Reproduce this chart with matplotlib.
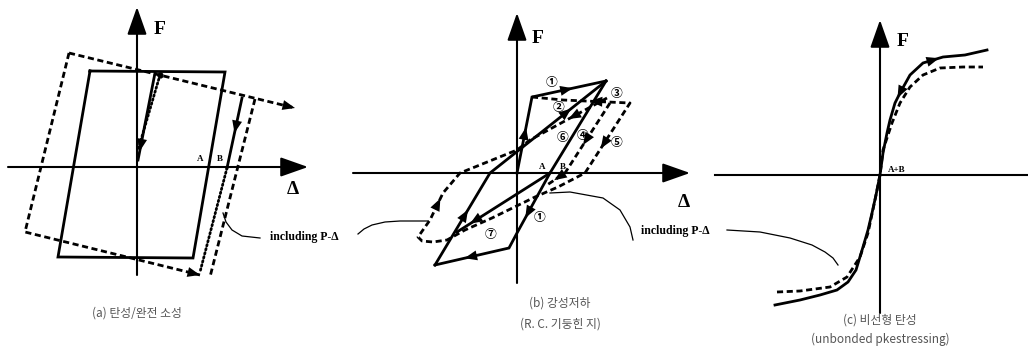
import matplotlib
matplotlib.use("Agg")
import matplotlib.pyplot as plt
from matplotlib.patches import FancyArrowPatch
import numpy as np

W, H = 1028, 347

# ------------------------------------------------------------------ data
# All curves are (Δ, F) pairs in drawing units relative to each panel origin.

# ---- panel (a): elastic / perfectly plastic
a_F_axis = [-108, 160]
a_D_axis = [-129, 171]
a_loop_x = [-47, 88, 56, -79, -47]
a_loop_y = [96, 95, -91, -90, 96]
a_unload_x = [105, 90]
a_unload_y = [69, -1]
a_dotted_x = [90, 63]
a_dotted_y = [-1, -105]
a_init_x = [18, 1]
a_init_y = [94, 7]
a_init_dot_x = [23, 1]
a_init_dot_y = [92, 17]
a_dtop_x = [-68, 158]
a_dtop_y = [114, 59]
a_douter_x = [-68, -112, 63]
a_douter_y = [114, -65, -108]
a_dright_x = [118, 73]
a_dright_y = [68, -110]
a_lead_x = [86, 89, 95, 105, 123]
a_lead_y = [-46, -55, -63, -69, -71]

# ---- panel (b): stiffness degrading (R.C. column)
b_F_axis = [-110, 160]
b_D_axis = [-164, 173]
b_init_x = [0, 15, 89]
b_init_y = [0, 76, 92]
b_unload_x = [89, 33, 0, -8, -82]
b_unload_y = [92, 0, -60, -75, -92]
b_reload_x = [-82, -27, 89]
b_reload_y = [-92, 0, 92]
b_lower_x = [33, -60]
b_lower_y = [0, -59]
b_dloop_x = [15, 46, 113, 68, 41, 18, -25, -52, -70, -84, -95, -99, -87, -74, -57, 0, 13, 90]
b_dloop_y = [76, 73, 70, 0, -14, -24, -45, -57, -67, -69, -68, -64, -47, -20, 0, 23, 33, 75]
b_dB_x = [93, 48, 30]
b_dB_y = [70, 0, -12]
b_lead_l_x = [-159, -153, -145, -132, -117, -89]
b_lead_l_y = [-61, -56, -52, -49, -48, -48]
b_lead_r_x = [33, 53, 86, 103, 113, 116]
b_lead_r_y = [-20, -19, -25, -37, -54, -67]
b_num_x = [35, 100, 42, 46, 66, 100, 23, -26]
b_num_y = [91, 80, 66, 36, 38, 31, -44, -61]
b_num_txt = ["①", "③", "②", "⑥", "④", "⑤", "①", "⑦"]

# ---- panel (c): nonlinear elastic (unbonded prestressing)
c_F_axis = [-138, 155]
c_D_axis = [-165, 147]
c_solid_x = [-105, -80, -60, -43, -32, -24, -17, -12, -8, -4, 0, 3, 7, 10, 15, 20, 30, 43, 63, 85, 107]
c_solid_y = [-130, -125, -120, -115, -107, -95, -72, -55, -38, -20, 0, 22, 42, 55, 72, 82, 100, 112, 118, 120, 125]
c_dash_x = [-103, -80, -50, -33, -20, -12, -5, 0, 3, 12, 20, 30, 43, 60, 83, 103]
c_dash_y = [-117, -116, -112, -102, -82, -58, -25, 0, 25, 52, 72, 88, 100, 107, 108, 108]
c_lead_x = [-153, -120, -90, -68, -55, -47, -42]
c_lead_y = [-55, -57, -63, -70, -77, -83, -90]

# ------------------------------------------------------------------ layout
ORIGINS = {"a": (137, 167), "b": (517, 173), "c": (880, 175)}
LW = 2.0
SERIF = "Liberation Serif"
KR = ["Noto Sans CJK KR", "DejaVu Sans"]

fig = plt.figure(figsize=(W / 100, H / 100), dpi=100)
fig.patch.set_facecolor("white")


def panel(key):
    ox, oy = ORIGINS[key]
    ax = fig.add_axes([0, 0, 1, 1])
    ax.set_xlim(-ox, W - ox)
    ax.set_ylim(oy - H, oy)
    ax.axis("off")
    ax.patch.set_alpha(0)
    return ax


def solid(ax, xs, ys, lw=LW):
    ax.plot(xs, ys, color="k", lw=lw, solid_joinstyle="miter", clip_on=False)


def dashed(ax, xs, ys):
    ax.plot(xs, ys, color="k", lw=LW, dashes=(2.2, 1.3), clip_on=False)


def dotted(ax, xs, ys):
    ax.plot(xs, ys, color="k", lw=2.0, dashes=(0.5, 1.0), dash_capstyle="round", clip_on=False)


def head(ax, xs, ys, seg, t, rev=False, hl=9.0, hw=3.6):
    x0, y0, x1, y1 = xs[seg], ys[seg], xs[seg + 1], ys[seg + 1]
    if rev:
        x0, y0, x1, y1 = x1, y1, x0, y0
    d = np.hypot(x1 - x0, y1 - y0)
    ux, uy = (x1 - x0) / d, (y1 - y0) / d
    px, py = x0 + t * (x1 - x0), y0 + t * (y1 - y0)
    L = 16
    ax.add_patch(FancyArrowPatch((px - ux * L, py - uy * L), (px, py),
                                 arrowstyle=f"-|>,head_length={hl},head_width={hw}",
                                 mutation_scale=1, color="k", lw=0,
                                 shrinkA=0, shrinkB=0, clip_on=False))


def axes_arrows(ax, Fax, Dax, d_arrow=True):
    big = "-|>,head_length=17,head_width=6"
    ax.add_patch(FancyArrowPatch((0, Fax[0]), (0, Fax[1]), arrowstyle=big,
                                 mutation_scale=1, color="k", lw=1.5,
                                 shrinkA=0, shrinkB=0, clip_on=False))
    if d_arrow:
        ax.add_patch(FancyArrowPatch((Dax[0], 0), (Dax[1], 0), arrowstyle=big,
                                     mutation_scale=1, color="k", lw=1.5,
                                     shrinkA=0, shrinkB=0, clip_on=False))
    else:
        ax.plot(Dax, [0, 0], color="k", lw=1.5, clip_on=False)


def lead(ax, xs, ys):
    ax.plot(xs, ys, color="k", lw=0.9, clip_on=False)


def caption(ax, x, y, s):
    ax.text(x, y, s, ha="center", va="center", fontsize=8.5, color="#555555",
            family=KR)


# ------------------------------------------------------------------ panel (a)
ax = panel("a")
axes_arrows(ax, a_F_axis, a_D_axis)
solid(ax, a_loop_x, a_loop_y)
solid(ax, a_unload_x, a_unload_y)
head(ax, a_unload_x, a_unload_y, 0, 0.5)
dotted(ax, a_dotted_x, a_dotted_y)
solid(ax, a_init_x, a_init_y)
head(ax, a_init_x, a_init_y, 0, 0.9)
dotted(ax, a_init_dot_x, a_init_dot_y)
dashed(ax, a_dtop_x, a_dtop_y)
head(ax, a_dtop_x, a_dtop_y, 0, 1.0)
dashed(ax, a_douter_x, a_douter_y)
head(ax, a_douter_x, a_douter_y, 1, 1.0)
dashed(ax, a_dright_x, a_dright_y)
lead(ax, a_lead_x, a_lead_y)
ax.plot([a_init_dot_x[0]], [a_init_dot_y[0]], "o", color="k", ms=3.5)
ax.text(23, 137, "F", family=SERIF, weight="bold", fontsize=14, ha="center", va="center")
ax.text(156, -23, "Δ", family=SERIF, weight="bold", fontsize=14, ha="center", va="center")
ax.text(63, 8, "A", family=SERIF, weight="bold", fontsize=6.5, ha="center", va="center")
ax.text(83, 8, "B", family=SERIF, weight="bold", fontsize=6.5, ha="center", va="center")
ax.text(133, -70, "including P-Δ", family=SERIF, weight="bold", fontsize=8.5,
        ha="left", va="center")
caption(ax, 0, -146, "(a) 탄성/완전 소성")

# ------------------------------------------------------------------ panel (b)
ax = panel("b")
axes_arrows(ax, b_F_axis, b_D_axis)
solid(ax, b_init_x, b_init_y)
head(ax, b_init_x, b_init_y, 0, 0.6)
head(ax, b_init_x, b_init_y, 1, 0.55)
solid(ax, b_unload_x, b_unload_y)
head(ax, b_unload_x, b_unload_y, 1, 0.75)
head(ax, b_unload_x, b_unload_y, 3, 0.6)
solid(ax, b_reload_x, b_reload_y)
head(ax, b_reload_x, b_reload_y, 0, 0.6)
head(ax, b_reload_x, b_reload_y, 1, 0.7)
solid(ax, b_lower_x, b_lower_y)
head(ax, b_lower_x, b_lower_y, 0, 0.86)
dashed(ax, b_dloop_x, b_dloop_y)
head(ax, b_dloop_x, b_dloop_y, 1, 0.6, rev=True)
head(ax, b_dloop_x, b_dloop_y, 2, 0.65)
head(ax, b_dloop_x, b_dloop_y, 12, 0.8)
head(ax, b_dloop_x, b_dloop_y, 16, 0.5, rev=True)
dashed(ax, b_dB_x, b_dB_y)
head(ax, b_dB_x, b_dB_y, 0, 0.6)
head(ax, b_dB_x, b_dB_y, 1, 0.6)
lead(ax, b_lead_l_x, b_lead_l_y)
lead(ax, b_lead_r_x, b_lead_r_y)
for x, y, s in zip(b_num_x, b_num_y, b_num_txt):
    ax.text(x, y, s, family=KR, fontsize=8.5, weight="bold", ha="center", va="center")
ax.text(21, 135, "F", family=SERIF, weight="bold", fontsize=14, ha="center", va="center")
ax.text(167, -29, "Δ", family=SERIF, weight="bold", fontsize=14, ha="center", va="center")
ax.text(25, 6, "A", family=SERIF, weight="bold", fontsize=6.5, ha="center", va="center")
ax.text(46, 6, "B", family=SERIF, weight="bold", fontsize=6.5, ha="center", va="center")
ax.text(124, -58, "including P-Δ", family=SERIF, weight="bold", fontsize=8.5,
        ha="left", va="center")
caption(ax, 43, -130, "(b) 강성저하")
caption(ax, 43, -151, "(R. C. 기둥힌 지)")

# ------------------------------------------------------------------ panel (c)
ax = panel("c")
axes_arrows(ax, c_F_axis, c_D_axis, d_arrow=False)
solid(ax, c_solid_x, c_solid_y)
head(ax, c_solid_x, c_solid_y, 17, 0.8)
head(ax, c_solid_x, c_solid_y, 14, 0.5, rev=True)
dashed(ax, c_dash_x, c_dash_y)
lead(ax, c_lead_x, c_lead_y)
ax.text(23, 133, "F", family=SERIF, weight="bold", fontsize=14, ha="center", va="center")
ax.text(8, 5, "A+B", family=SERIF, weight="bold", fontsize=6.5, ha="left", va="center")
caption(ax, 0, -145, "(c) 비선형 탄성")
caption(ax, 0, -164, "(unbonded pkestressing)")

fig.savefig("out.png", dpi=100, facecolor="white")
